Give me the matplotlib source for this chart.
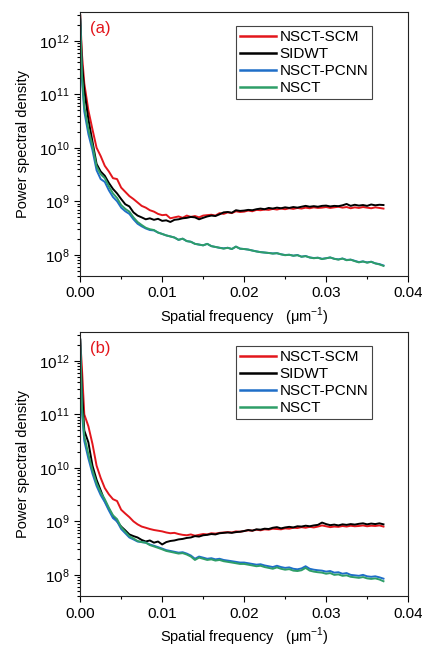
import matplotlib
matplotlib.use('agg')
import matplotlib.pyplot as plt
from matplotlib.ticker import LogLocator, MultipleLocator, FixedLocator

plt.rcParams['font.family'] = ['Liberation Sans', 'DejaVu Sans']
plt.rcParams['mathtext.fontset'] = 'custom'
plt.rcParams['mathtext.rm'] = 'Liberation Sans'

# spatial frequency grid (um^-1)
freq = [0, 0.0002, 0.0005, 0.001, 0.0015, 0.002, 0.0025, 0.003, 0.0035, 0.004,
        0.0045, 0.005, 0.0055, 0.006, 0.0065, 0.007, 0.0075, 0.008, 0.0085, 0.009,
        0.0095, 0.010, 0.0105, 0.011, 0.0115, 0.012, 0.0125, 0.013, 0.0135, 0.014,
        0.0145, 0.015, 0.0155, 0.016, 0.0165, 0.017, 0.0175, 0.018, 0.0185, 0.019,
        0.0195, 0.020, 0.0205, 0.021, 0.0215, 0.022, 0.0225, 0.023, 0.0235, 0.024,
        0.0245, 0.025, 0.0255, 0.026, 0.0265, 0.027, 0.0275, 0.028, 0.0285, 0.029,
        0.0295, 0.030, 0.0305, 0.031, 0.0315, 0.032, 0.0325, 0.033, 0.0335, 0.034,
        0.0345, 0.035, 0.0355, 0.036, 0.0365, 0.037]

# panel (a)
a_scm = [3.0e12, 6.0e11, 1.6e11, 5.0e10, 2.2e10, 1.0e10, 7.0e9, 4.6e9, 3.6e9, 2.7e9,
         2.6e9, 1.8e9, 1.5e9, 1.25e9, 1.1e9, 9.5e8, 8.2e8, 7.6e8, 6.8e8, 6.4e8,
         5.8e8, 5.5e8, 5.6e8, 4.8e8, 5.0e8, 5.2e8, 4.9e8, 5.4e8, 5.1e8, 5.3e8,
         5.0e8, 5.4e8, 5.5e8, 5.6e8, 5.4e8, 6.0e8, 5.8e8, 6.2e8, 6.0e8, 6.5e8,
         6.3e8, 6.4e8, 6.7e8, 6.5e8, 6.9e8, 6.8e8, 7.0e8, 6.9e8, 7.2e8, 7.0e8,
         7.3e8, 7.1e8, 7.4e8, 7.2e8, 7.5e8, 7.3e8, 7.6e8, 7.4e8, 7.7e8, 7.5e8,
         7.6e8, 7.8e8, 7.5e8, 7.7e8, 7.9e8, 7.6e8, 7.8e8, 7.4e8, 7.7e8, 7.5e8,
         7.8e8, 7.6e8, 7.4e8, 7.7e8, 7.5e8, 7.3e8]
a_sidwt = [3.0e12, 4.0e11, 1.2e11, 3.4e10, 1.3e10, 5.0e9, 3.6e9, 3.0e9, 2.2e9, 1.7e9,
           1.4e9, 1.1e9, 8.8e8, 8.0e8, 6.2e8, 5.4e8, 5.0e8, 4.6e8, 4.8e8, 4.5e8,
           4.7e8, 4.3e8, 4.4e8, 4.1e8, 4.5e8, 4.6e8, 4.8e8, 4.9e8, 5.1e8, 5.0e8,
           4.6e8, 4.9e8, 5.2e8, 5.4e8, 5.3e8, 5.7e8, 6.2e8, 6.3e8, 6.1e8, 6.8e8,
           6.6e8, 6.7e8, 6.9e8, 6.8e8, 7.1e8, 7.3e8, 7.1e8, 7.5e8, 7.3e8, 7.6e8,
           7.4e8, 7.7e8, 7.5e8, 7.8e8, 7.6e8, 7.9e8, 8.2e8, 7.9e8, 8.1e8, 7.9e8,
           8.2e8, 8.3e8, 8.0e8, 8.2e8, 8.1e8, 8.4e8, 8.9e8, 8.2e8, 8.6e8, 8.3e8,
           8.5e8, 8.2e8, 8.7e8, 8.4e8, 8.6e8, 8.5e8]
a_pcnn = [2.5e12, 2.0e11, 4.8e10, 1.8e10, 9.0e9, 3.8e9, 2.6e9, 2.3e9, 1.6e9, 1.2e9,
          1.0e9, 7.6e8, 6.5e8, 5.8e8, 4.6e8, 3.8e8, 3.4e8, 3.1e8, 2.9e8, 2.85e8,
          2.6e8, 2.45e8, 2.3e8, 2.2e8, 2.1e8, 1.9e8, 2.0e8, 1.8e8, 1.75e8, 1.6e8,
          1.55e8, 1.5e8, 1.6e8, 1.45e8, 1.4e8, 1.35e8, 1.32e8, 1.35e8, 1.28e8, 1.42e8,
          1.3e8, 1.28e8, 1.25e8, 1.2e8, 1.16e8, 1.12e8, 1.1e8, 1.08e8, 1.06e8, 1.07e8,
          1.02e8, 9.9e7, 1.0e8, 9.6e7, 9.9e7, 9.2e7, 9.5e7, 8.9e7, 8.7e7, 8.8e7,
          8.4e7, 8.6e7, 8.9e7, 8.4e7, 8.2e7, 8.5e7, 8.0e7, 8.1e7, 7.7e7, 7.3e7,
          7.5e7, 7.2e7, 7.4e7, 6.9e7, 6.7e7, 6.3e7]
a_nsct = [2.5e12, 2.5e11, 6.0e10, 2.2e10, 1.1e10, 4.5e9, 3.2e9, 2.7e9, 1.9e9, 1.4e9,
          1.15e9, 8.5e8, 7.2e8, 6.4e8, 5.0e8, 4.1e8, 3.6e8, 3.2e8, 3.0e8, 2.9e8,
          2.6e8, 2.45e8, 2.3e8, 2.2e8, 2.1e8, 1.9e8, 2.0e8, 1.8e8, 1.75e8, 1.6e8,
          1.55e8, 1.5e8, 1.6e8, 1.45e8, 1.4e8, 1.35e8, 1.3e8, 1.35e8, 1.28e8, 1.42e8,
          1.3e8, 1.28e8, 1.25e8, 1.2e8, 1.15e8, 1.12e8, 1.1e8, 1.08e8, 1.05e8, 1.07e8,
          1.02e8, 9.8e7, 1.0e8, 9.6e7, 9.8e7, 9.2e7, 9.4e7, 8.9e7, 8.6e7, 8.8e7,
          8.3e7, 8.6e7, 8.9e7, 8.4e7, 8.1e7, 8.5e7, 7.9e7, 8.1e7, 7.6e7, 7.2e7,
          7.5e7, 7.1e7, 7.4e7, 6.9e7, 6.6e7, 6.2e7]

# panel (b)
b_scm = [2.5e12, 8.0e11, 1.0e11, 6.0e10, 2.8e10, 1.1e10, 6.5e9, 4.2e9, 3.2e9, 2.6e9,
         2.4e9, 1.65e9, 1.4e9, 1.2e9, 1.0e9, 8.8e8, 8.0e8, 7.6e8, 7.2e8, 6.9e8,
         6.7e8, 6.5e8, 6.2e8, 6.0e8, 6.1e8, 5.8e8, 5.6e8, 5.5e8, 5.7e8, 5.4e8,
         5.6e8, 5.8e8, 5.7e8, 6.0e8, 5.9e8, 6.1e8, 6.2e8, 6.3e8, 6.2e8, 6.5e8,
         6.4e8, 6.6e8, 6.8e8, 6.7e8, 7.0e8, 6.8e8, 7.1e8, 7.0e8, 7.3e8, 7.2e8,
         7.1e8, 7.4e8, 7.3e8, 7.6e8, 7.5e8, 7.8e8, 7.6e8, 7.9e8, 7.7e8, 8.0e8,
         8.4e8, 8.1e8, 7.8e8, 8.0e8, 7.9e8, 8.2e8, 8.0e8, 8.3e8, 8.1e8, 8.2e8,
         8.4e8, 8.1e8, 8.3e8, 8.2e8, 8.4e8, 8.0e8]
b_sidwt = [2.5e12, 3.0e11, 5.0e10, 3.0e10, 1.1e10, 6.0e9, 3.8e9, 2.4e9, 1.7e9, 1.25e9,
           1.0e9, 8.0e8, 6.8e8, 5.7e8, 5.3e8, 5.0e8, 4.5e8, 4.2e8, 4.4e8, 4.0e8,
           4.2e8, 3.7e8, 4.1e8, 4.3e8, 4.4e8, 4.6e8, 4.7e8, 4.9e8, 5.0e8, 5.3e8,
           5.2e8, 5.5e8, 5.6e8, 5.8e8, 5.7e8, 6.0e8, 6.1e8, 6.2e8, 6.1e8, 6.3e8,
           6.4e8, 6.6e8, 6.9e8, 6.7e8, 7.1e8, 7.0e8, 7.3e8, 7.2e8, 7.6e8, 7.8e8,
           7.4e8, 7.7e8, 7.9e8, 7.7e8, 8.1e8, 8.0e8, 8.3e8, 8.1e8, 8.4e8, 8.6e8,
           9.5e8, 8.9e8, 8.5e8, 8.7e8, 8.4e8, 8.8e8, 8.6e8, 8.9e8, 8.7e8, 9.0e8,
           9.2e8, 8.8e8, 9.1e8, 8.9e8, 9.2e8, 8.8e8]
b_pcnn = [2.5e12, 1.2e11, 3.2e10, 1.5e10, 7.8e9, 4.6e9, 3.1e9, 2.3e9, 1.6e9, 1.15e9,
          1.0e9, 7.2e8, 6.0e8, 5.0e8, 4.6e8, 4.2e8, 4.1e8, 4.0e8, 3.7e8, 3.5e8,
          3.3e8, 3.1e8, 2.9e8, 2.8e8, 2.7e8, 2.6e8, 2.65e8, 2.5e8, 2.3e8, 2.0e8,
          2.2e8, 2.1e8, 2.0e8, 2.05e8, 1.95e8, 2.0e8, 1.9e8, 1.85e8, 1.8e8, 1.75e8,
          1.7e8, 1.7e8, 1.65e8, 1.6e8, 1.55e8, 1.58e8, 1.5e8, 1.45e8, 1.4e8, 1.48e8,
          1.4e8, 1.35e8, 1.38e8, 1.3e8, 1.27e8, 1.32e8, 1.45e8, 1.3e8, 1.25e8, 1.22e8,
          1.2e8, 1.15e8, 1.18e8, 1.1e8, 1.12e8, 1.05e8, 1.08e8, 1.0e8, 9.8e7, 9.6e7,
          1.0e8, 9.4e7, 9.2e7, 9.4e7, 9.0e7, 8.5e7]
b_nsct = [2.5e12, 1.5e11, 3.9e10, 1.8e10, 9.0e9, 5.2e9, 3.5e9, 2.6e9, 1.8e9, 1.3e9,
          1.1e9, 7.8e8, 6.4e8, 5.3e8, 4.8e8, 4.3e8, 4.1e8, 4.0e8, 3.6e8, 3.4e8,
          3.2e8, 3.0e8, 2.8e8, 2.7e8, 2.6e8, 2.5e8, 2.55e8, 2.4e8, 2.2e8, 1.9e8,
          2.1e8, 2.0e8, 1.9e8, 1.95e8, 1.85e8, 1.9e8, 1.8e8, 1.75e8, 1.7e8, 1.65e8,
          1.6e8, 1.6e8, 1.55e8, 1.5e8, 1.45e8, 1.48e8, 1.4e8, 1.35e8, 1.3e8, 1.38e8,
          1.3e8, 1.25e8, 1.28e8, 1.2e8, 1.18e8, 1.22e8, 1.35e8, 1.2e8, 1.15e8, 1.12e8,
          1.1e8, 1.05e8, 1.08e8, 1.0e8, 1.02e8, 9.6e7, 9.8e7, 9.2e7, 9.0e7, 8.8e7,
          9.1e7, 8.6e7, 8.4e7, 8.6e7, 8.2e7, 7.6e7]

labels = ['NSCT-SCM', 'SIDWT', 'NSCT-PCNN', 'NSCT']
colors = ['#e3161c', '#000000', '#1f6ec8', '#2e9e68']
panels = [('(a)', [a_scm, a_sidwt, a_pcnn, a_nsct]),
          ('(b)', [b_scm, b_sidwt, b_pcnn, b_nsct])]

fig = plt.figure(figsize=(4.22, 6.48), dpi=100)
boxes = [[0.190, 0.574, 0.777, 0.408], [0.190, 0.080, 0.777, 0.408]]

for box, (tag, series) in zip(boxes, panels):
    ax = fig.add_axes(box)
    for vals, lab, col in zip(series, labels, colors):
        ax.plot(freq, vals, color=col, lw=1.4, label=lab)
    ax.set_yscale('log')
    ax.set_xlim(0, 0.04)
    ax.set_ylim(4e7, 3.5e12)
    ax.xaxis.set_major_locator(FixedLocator([0, 0.01, 0.02, 0.03, 0.04]))
    ax.set_xticklabels(['0.00', '0.01', '0.02', '0.03', '0.04'])
    ax.xaxis.set_minor_locator(MultipleLocator(0.005))
    ax.yaxis.set_major_locator(LogLocator(base=10, numticks=10))
    ax.yaxis.set_minor_locator(LogLocator(base=10, subs=range(2, 10), numticks=10))
    ax.tick_params(which='both', direction='out', top=False, right=False,
                   labelsize=11, width=0.8)
    ax.tick_params(which='major', length=4)
    ax.tick_params(which='minor', length=2.2)
    for sp in ax.spines.values():
        sp.set_linewidth(0.8)
        sp.set_color('#222222')
    ax.set_xlabel('Spatial frequency   (μm$^{-1}$)', fontsize=10.5, labelpad=4)
    ax.set_ylabel('Power spectral density', fontsize=10.5, labelpad=7)
    ax.text(0.03, 0.935, tag, color='#e3161c', fontsize=12, transform=ax.transAxes,
            va='center', ha='left')
    leg = ax.legend(loc='upper right', bbox_to_anchor=(0.89, 0.945), fontsize=11,
                    handlelength=2.4, handletextpad=0.2, labelspacing=0.2,
                    borderpad=0.25, borderaxespad=0, fancybox=False,
                    framealpha=1, edgecolor='#444444')
    leg.get_frame().set_linewidth(0.8)
    for ln in leg.get_lines():
        ln.set_linewidth(1.8)

fig.savefig('out.png', dpi=100)
